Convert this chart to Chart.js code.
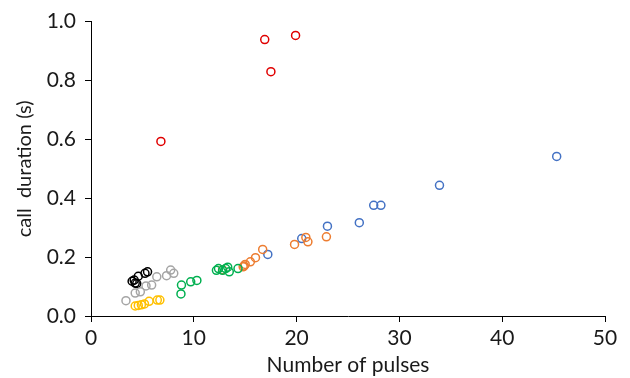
<!DOCTYPE html>
<html>
<head>
<meta charset="utf-8">
<script src="https://cdn.jsdelivr.net/npm/chart.js@4/dist/chart.umd.min.js"></script>
<style>
  html, body { margin: 0; padding: 0; background: #fff; }
  #wrap { width: 630px; height: 378px; }
</style>
</head>
<body>
<div id="wrap"><canvas id="pulseChart"></canvas></div>
<script>
// pulses per call (x) and call duration in seconds (y), one pair of arrays per group
const redPulses = [6.8, 16.9, 17.5, 19.9];
const redDuration = [0.593, 0.939, 0.830, 0.953];

const bluePulses = [17.2, 20.5, 23.0, 26.1, 27.5, 28.2, 33.9, 45.3];
const blueDuration = [0.209, 0.263, 0.305, 0.317, 0.376, 0.376, 0.444, 0.542];

const orangePulses = [12.8, 14.8, 14.9, 15.0, 15.5, 16.0, 16.7, 19.8, 20.9, 21.1, 22.9];
const orangeDuration = [0.157, 0.167, 0.170, 0.175, 0.184, 0.198, 0.226, 0.243, 0.267, 0.252, 0.269];

const greenPulses = [8.75, 8.8, 9.7, 10.3, 12.2, 12.4, 12.8, 13.1, 13.3, 13.45, 14.3];
const greenDuration = [0.075, 0.105, 0.116, 0.121, 0.155, 0.161, 0.155, 0.161, 0.166, 0.150, 0.161];

const grayPulses = [3.4, 4.3, 4.8, 5.35, 5.9, 6.4, 7.35, 7.75, 8.05];
const grayDuration = [0.052, 0.078, 0.082, 0.102, 0.105, 0.133, 0.137, 0.156, 0.145];

const blackPulses = [4.0, 4.2, 4.3, 4.45, 4.6, 5.25, 5.5];
const blackDuration = [0.118, 0.122, 0.112, 0.110, 0.135, 0.145, 0.150];

const yellowPulses = [4.3, 4.6, 4.9, 5.2, 5.65, 6.45, 6.7];
const yellowDuration = [0.034, 0.036, 0.038, 0.041, 0.050, 0.054, 0.054];

const xTicks = [0, 10, 20, 30, 40, 50];
const yTicks = [0, 0.2, 0.4, 0.6, 0.8, 1.0];

function toPoints(xs, ys) {
    return xs.map((x, i) => ({ x: x, y: ys[i] }));
}

function group(xs, ys, color) {
    return {
        data: toPoints(xs, ys),
        borderColor: color,
        backgroundColor: 'transparent',
        pointRadius: 4,
        pointHoverRadius: 4,
        pointBorderWidth: 1.5
    };
}

Chart.defaults.font.family = 'Lato, "Open Sans", sans-serif';
Chart.defaults.color = '#1a1a1a';

const ctx = document.getElementById('pulseChart').getContext('2d');
const pulseChart = new Chart(ctx, {
    type: 'scatter',
    data: {
        datasets: [
            group(grayPulses, grayDuration, '#a5a5a5'),
            group(yellowPulses, yellowDuration, '#ffc000'),
            group(greenPulses, greenDuration, '#00b050'),
            group(orangePulses, orangeDuration, '#ed7d31'),
            group(bluePulses, blueDuration, '#4472c4'),
            group(blackPulses, blackDuration, '#000000'),
            group(redPulses, redDuration, '#e00000')
        ]
    },
    options: {
        responsive: true,
        maintainAspectRatio: false,
        animation: false,
        layout: { padding: { left: 0, right: 25, top: 21, bottom: 0 } },
        plugins: { legend: { display: false }, tooltip: { enabled: false } },
        scales: {
            x: {
                type: 'linear',
                min: 0,
                max: 50,
                afterBuildTicks: function (scale) {
                    scale.ticks = xTicks.map(v => ({ value: v }));
                },
                afterFit: function (scale) { scale.height = 62; },
                grid: { drawOnChartArea: false, color: '#000', tickLength: 6 },
                border: { color: '#000', width: 1 },
                ticks: { font: { size: 21 }, color: '#1a1a1a', padding: 4 },
                title: {
                    display: true,
                    text: 'Number of pulses',
                    font: { size: 21 },
                    color: '#1a1a1a',
                    padding: { top: 0, bottom: 0 }
                }
            },
            y: {
                type: 'linear',
                min: 0,
                max: 1,
                afterBuildTicks: function (scale) {
                    scale.ticks = yTicks.map(v => ({ value: v }));
                },
                afterFit: function (scale) { scale.width = 91; },
                grid: { drawOnChartArea: false, color: '#000', tickLength: 6 },
                border: { color: '#000', width: 1 },
                ticks: {
                    font: { size: 21 },
                    color: '#1a1a1a',
                    padding: 9,
                    callback: function (value) { return value.toFixed(1); }
                },
                title: {
                    display: true,
                    text: 'call  duration (s)',
                    font: { size: 20 },
                    color: '#1a1a1a',
                    padding: { top: 13, bottom: 0 }
                }
            }
        }
    }
});
</script>
</body>
</html>
